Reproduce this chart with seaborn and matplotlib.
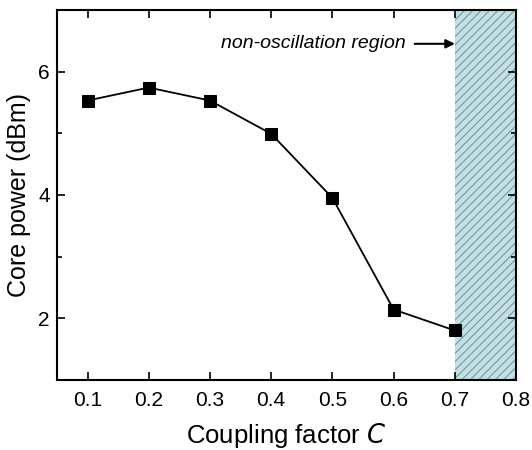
import matplotlib
matplotlib.use("Agg")
import matplotlib.pyplot as plt
from matplotlib.ticker import MultipleLocator
import seaborn as sns
import pandas as pd

coupling = [0.1, 0.2, 0.3, 0.4, 0.5, 0.6, 0.7]
core_power = [5.53, 5.74, 5.53, 4.99, 3.95, 2.14, 1.80]
x_ticks = [0.1, 0.2, 0.3, 0.4, 0.5, 0.6, 0.7, 0.8]
y_ticks = [2, 4, 6]
region_start, region_end = 0.7, 0.8
region_label = "non-oscillation region"

sns.set_theme(style="ticks")
plt.rcParams["font.family"] = ["Liberation Sans", "DejaVu Sans"]
plt.rcParams.update({
    "text.color": "black",
    "axes.labelcolor": "black",
    "xtick.color": "black",
    "ytick.color": "black",
    "hatch.color": "#7a8a8d",
    "hatch.linewidth": 0.7,
})

df = pd.DataFrame({"C": coupling, "P": core_power})

fig, ax = plt.subplots(figsize=(5.32, 4.5), dpi=100)
fig.subplots_adjust(left=0.107, right=0.970, top=0.978, bottom=0.156)

ax.axvspan(region_start, region_end, facecolor="#bfe0e6", edgecolor="#7a8a8d",
           hatch="////", linewidth=0, zorder=0)

sns.lineplot(data=df, x="C", y="P", ax=ax, color="black", linewidth=1.3,
             marker="s", markersize=8.5, markeredgecolor="black",
             markerfacecolor="black", zorder=3)

ax.annotate(region_label, xy=(region_start, 6.45), xytext=(0.620, 6.45),
            ha="right", va="center", fontsize=14, style="italic",
            arrowprops=dict(arrowstyle="-|>", color="black", lw=1.5,
                            mutation_scale=13, shrinkA=4, shrinkB=0))

ax.set_xlim(0.05, 0.8)
ax.set_ylim(1, 7)
ax.set_xticks(x_ticks)
ax.set_xticklabels([f"{v:.1f}" for v in x_ticks])
ax.set_yticks(y_ticks)
ax.yaxis.set_minor_locator(MultipleLocator(1))

ax.tick_params(axis="both", which="major", direction="in", length=6, width=1.2,
               labelsize=15, top=True, right=True, color="black")
ax.tick_params(axis="x", which="major", pad=8)
ax.tick_params(axis="y", which="major", pad=5)
ax.tick_params(axis="y", which="minor", direction="in", length=3.5, width=1.2,
               right=True, color="black")
ax.tick_params(axis="x", which="minor", bottom=False, top=False)

for s in ax.spines.values():
    s.set_linewidth(1.5)
    s.set_color("black")

ax.set_xlabel("Coupling factor $\\it{C}$", fontsize=18.5, labelpad=8)
ax.set_ylabel("Core power (dBm)", fontsize=18, labelpad=5)

fig.savefig("out.png", dpi=100)
